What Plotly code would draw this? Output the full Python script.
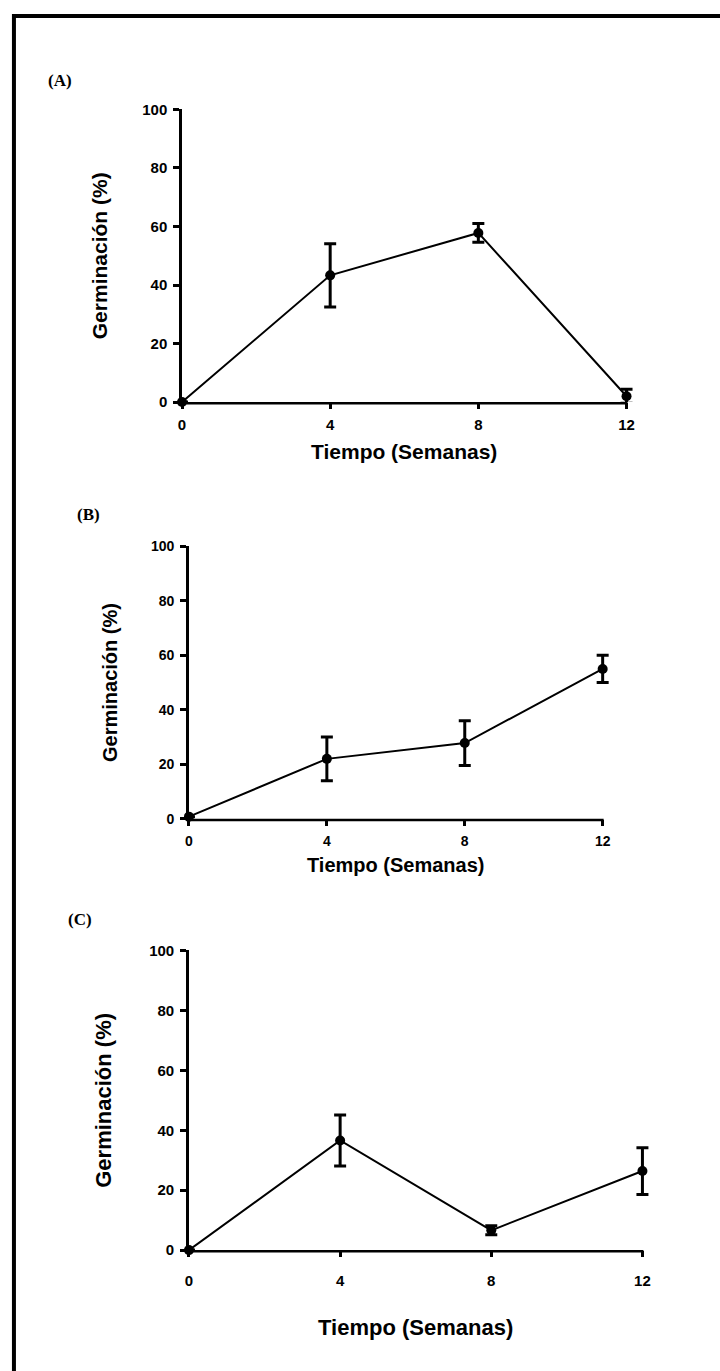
import plotly.graph_objects as go

W, H = 720, 1371

weeks = [0, 4, 8, 12]
x_ticks = [0, 4, 8, 12]
y_ticks = [0, 20, 40, 60, 80, 100]

germ_a = [0, 43.3, 57.8, 2.0]
err_a = [0, 10.8, 3.2, 2.4]
germ_b = [0.8, 22.0, 27.8, 55.0]
err_b = [0, 8.0, 8.2, 5.0]
germ_c = [0, 36.6, 6.6, 26.4]
err_c = [0, 8.5, 1.5, 7.8]

panel_labels = ["(A)", "(B)", "(C)"]
x_title = "Tiempo (Semanas)"
y_title = "Germinación (%)"

X_MAX = 12.0
X_PAD = 0.6  # extra room so the error-bar caps at week 12 are not clipped

# layout in pixels: x0 -> week 0, x1 -> week 12, yt -> 100 %, yb -> 0 %
panels = [
    dict(x0=179, x1=626, yt=101.7, yb=398, tick=15, title=21, xstand=3,
         lab=(56, 72), ytx=96, xty=448),
    dict(x0=186, x1=602, yt=544, yb=820, tick=14, title=20, xstand=3,
         lab=(85, 512), ytx=106, xty=867),
    dict(x0=186, x1=642, yt=953.3, yb=1256.7, tick=15, title=22, xstand=11,
         lab=(76, 922), ytx=100, xty=1335),
]
series = [(germ_a, err_a), (germ_b, err_b), (germ_c, err_c)]

fig = go.Figure()
annotations = []
shapes = []
bold = dict(family="Arial, Liberation Sans, sans-serif", color="black", weight="bold")
LW = 2.5

for i, (p, (vals, errs)) in enumerate(zip(panels, series), start=1):
    sfx = "" if i == 1 else str(i)
    fig.add_trace(go.Scatter(
        x=weeks, y=vals,
        mode="lines+markers",
        line=dict(color="black", width=2),
        marker=dict(color="black", size=10, symbol="circle"),
        error_y=dict(type="data", array=errs, visible=True,
                     color="black", thickness=3, width=6),
        cliponaxis=False, showlegend=False,
        xaxis="x" + sfx, yaxis="y" + sfx,
    ))
    tickstyle = dict(ticks="outside", ticklen=6, tickwidth=LW, tickcolor="black",
                     showgrid=False, zeroline=False,
                     tickfont=dict(size=p["tick"], **bold))
    x_right = p["x0"] + (p["x1"] - p["x0"]) * (X_MAX + X_PAD) / X_MAX
    fig.update_layout(**{
        "xaxis" + sfx: dict(domain=[p["x0"] / W, x_right / W], range=[0, X_MAX + X_PAD],
                            tickvals=x_ticks, anchor="y" + sfx, showline=False,
                            ticklabelstandoff=p["xstand"], **tickstyle),
        "yaxis" + sfx: dict(domain=[1 - p["yb"] / H, 1 - p["yt"] / H], range=[0, 100],
                            tickvals=y_ticks, anchor="x" + sfx,
                            showline=True, linecolor="black", linewidth=LW,
                            ticklabelstandoff=3, **tickstyle),
    })
    # x-axis line that stops at week 12, like the original
    shapes.append(dict(type="line", xref="paper", yref="paper",
                       x0=(p["x0"] - LW) / W, x1=(p["x1"] + 1) / W,
                       y0=1 - (p["yb"] + LW / 2) / H, y1=1 - (p["yb"] + LW / 2) / H,
                       line=dict(color="black", width=LW), layer="above"))
    annotations.append(dict(
        text=panel_labels[i - 1], x=p["lab"][0] / W, y=1 - p["lab"][1] / H,
        xref="paper", yref="paper", showarrow=False, xanchor="center", yanchor="middle",
        font=dict(family="Liberation Serif, Times New Roman, serif", size=17,
                  color="black", weight="bold")))
    annotations.append(dict(
        text=y_title, x=p["ytx"] / W, y=1 - (p["yt"] + p["yb"]) / 2 / H,
        xref="paper", yref="paper", showarrow=False, textangle=-90,
        xanchor="center", yanchor="middle", font=dict(size=p["title"], **bold)))
    annotations.append(dict(
        text=x_title, x=(p["x0"] + p["x1"]) / 2 / W, y=1 - p["xty"] / H,
        xref="paper", yref="paper", showarrow=False,
        xanchor="center", yanchor="middle", font=dict(size=p["title"], **bold)))

shapes += [
    dict(type="line", xref="paper", yref="paper", x0=10 / W, x1=1.05,
         y0=1 - 7 / H, y1=1 - 7 / H, line=dict(color="black", width=4)),
    dict(type="line", xref="paper", yref="paper", x0=10 / W, x1=10 / W,
         y0=-0.05, y1=1 - 5 / H, line=dict(color="black", width=4)),
]

fig.update_layout(
    width=W, height=H,
    margin=dict(l=0, r=0, t=0, b=0),
    paper_bgcolor="white", plot_bgcolor="white",
    annotations=annotations, shapes=shapes,
    showlegend=False,
)

fig.write_html("out.html",
               config={"displayModeBar": False},
               post_script="document.body.style.margin='0';document.body.style.overflow='hidden';")
